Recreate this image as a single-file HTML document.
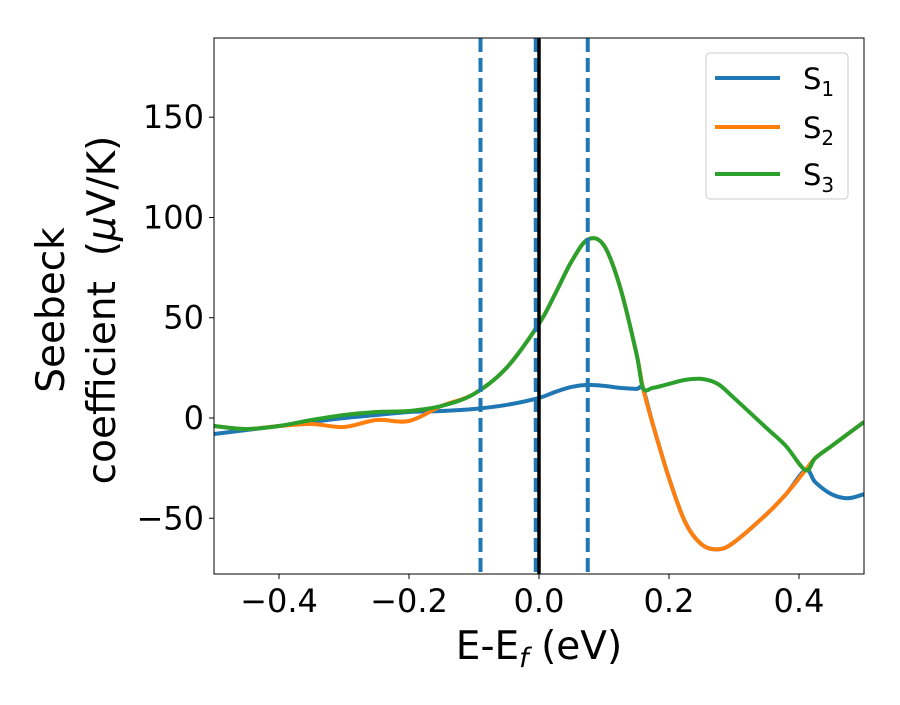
<!DOCTYPE html>
<html><head><meta charset="utf-8"><style>
body{margin:0;background:#fff;}
svg text{font-family:"DejaVu Sans","Liberation Sans",sans-serif;fill:#000;white-space:pre;}
</style></head><body>
<svg id="chart" width="900" height="700" xmlns="http://www.w3.org/2000/svg"></svg>
<script>
const xs = [-0.5,-0.45,-0.4,-0.35,-0.3,-0.25,-0.2,-0.15,-0.1,-0.05,0,0.025,0.05,0.075,0.1,0.125,0.15,0.16,0.175,0.2,0.225,0.25,0.275,0.3,0.35,0.38,0.41,0.425,0.45,0.475,0.5];
const s1 = [-8,-6,-4,-2,0,1.5,3,3.5,4.5,6.5,10,13,15.5,16.5,16,15,14.5,14.5,-3,-30,-52,-63,-65.5,-62,-48,-38,-26,-32,-38,-40,-38];
const s2 = [-4,-5.5,-4,-3,-4.5,-1,-1.5,6,12,25,47,62,78,89,86,65,32,15,-3,-30,-52,-63,-65.5,-62,-48,-38,-26,-20,-14,-8,-2];
const s3 = [-4,-5.5,-4,-1,1.5,3,3.5,6,12,25,47,62,78,89,86,65,32,15,15,17,19,19.5,17,10,-5,-14,-26,-20,-14,-8,-2];
const xTicks = [-0.4,-0.2,0.0,0.2,0.4];
const xTickLabels = ["\u22120.4","\u22120.2","0.0","0.2","0.4"];
const yTicks = [-50,0,50,100,150];
const yTickLabels = ["\u221250","0","50","100","150"];
const vlines = [-0.09,-0.005,0.075];

const L=214,R=864,T=38,B=574,XMIN=-0.5,XMAX=0.5,YMIN=-77.8,YMAX=189.5;
const X=v=>L+(v-XMIN)/(XMAX-XMIN)*(R-L);
const Y=v=>B-(v-YMIN)/(YMAX-YMIN)*(B-T);
const svg=document.getElementById('chart');
const NS="http://www.w3.org/2000/svg";
function mk(tag,attrs,parent){const e=document.createElementNS(NS,tag);for(const k in attrs)e.setAttribute(k,attrs[k]);(parent||svg).appendChild(e);return e;}

const defs=mk('defs',{});
const cp=mk('clipPath',{id:'clip'},defs);
mk('rect',{x:L,y:T,width:R-L,height:B-T},cp);
const plot=mk('g',{'clip-path':'url(#clip)'});



function path(ys){
  const p=xs.map((x,i)=>[X(x),Y(ys[i])]);
  let d=`M${p[0][0]},${p[0][1]}`;
  for(let i=0;i<p.length-1;i++){
    const p0=p[Math.max(i-1,0)],p1=p[i],p2=p[i+1],p3=p[Math.min(i+2,p.length-1)];
    const c1=[p1[0]+(p2[0]-p0[0])/6,p1[1]+(p2[1]-p0[1])/6];
    const c2=[p2[0]-(p3[0]-p1[0])/6,p2[1]-(p3[1]-p1[1])/6];
    d+=` C${c1[0]},${c1[1]} ${c2[0]},${c2[1]} ${p2[0]},${p2[1]}`;
  }
  return d;
}
const colors=['#1f77b4','#ff7f0e','#2ca02c'];
[s1,s2,s3].forEach((s,i)=>{
  const e=mk('path',{d:path(s),fill:'none',stroke:colors[i],'stroke-width':4,'stroke-linejoin':'round'},plot);
  
  
});
vlines.forEach((v,i)=>{
  const e=mk('line',{x1:X(v),x2:X(v),y1:T,y2:B,stroke:'#1f77b4','stroke-width':4,'stroke-dasharray':'14,6'},plot);
  
  
});
const fl=mk('line',{x1:X(0),x2:X(0),y1:T,y2:B,stroke:'#000','stroke-width':3.5},plot);



const frame=mk('rect',{x:L,y:T,width:R-L,height:B-T,fill:'none',stroke:'#000','stroke-width':1});



xTicks.forEach((v,i)=>{
  const t=mk('line',{x1:X(v),x2:X(v),y1:B,y2:B+5,stroke:'#000','stroke-width':1});
  
  
  const l=mk('text',{x:X(v),y:B+38,'text-anchor':'middle','font-size':32});
  l.textContent=xTickLabels[i];
  
  
});
yTicks.forEach((v,i)=>{
  const t=mk('line',{x1:L-5,x2:L,y1:Y(v),y2:Y(v),stroke:'#000','stroke-width':1});
  
  
  const l=mk('text',{x:L-10,y:Y(v)+11,'text-anchor':'end','font-size':32});
  l.textContent=yTickLabels[i];
  
  
});
</script>
<svg style="position:absolute;left:0;top:0" width="900" height="700" xmlns="http://www.w3.org/2000/svg">
  <text x="539" y="659" text-anchor="middle" font-size="39">E-E<tspan font-size="27" font-style="italic" dy="8">f</tspan><tspan dy="-8"> (eV)</tspan></text>
  <g transform="translate(64,310) rotate(-90)">
    <text x="0" y="0" text-anchor="middle" font-size="39">Seebeck</text>
    <text x="0" y="51" text-anchor="middle" font-size="39">coefficient  (<tspan font-style="italic">μ</tspan>V/K)</text>
  </g>
  <g>
    <rect x="706" y="53" width="142" height="146" rx="4" fill="#fff" stroke="#ccc" stroke-width="1"/>
    <g>
      <line x1="715" x2="780" y1="78" y2="78" stroke="#1f77b4" stroke-width="4"/>
      <text x="803" y="89" font-size="29">S<tspan font-size="20" dy="7">1</tspan></text>
    </g>
    <g>
      <line x1="715" x2="780" y1="127" y2="127" stroke="#ff7f0e" stroke-width="4"/>
      <text x="803" y="138" font-size="29">S<tspan font-size="20" dy="7">2</tspan></text>
    </g>
    <g>
      <line x1="715" x2="780" y1="174" y2="174" stroke="#2ca02c" stroke-width="4"/>
      <text x="803" y="185" font-size="29">S<tspan font-size="20" dy="7">3</tspan></text>
    </g>
  </g>
</svg>
</body></html>
